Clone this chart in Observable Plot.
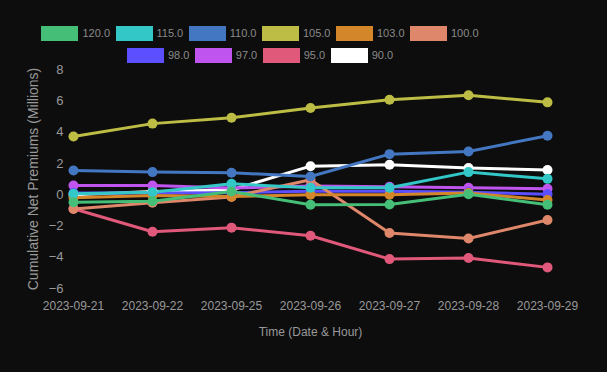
<!DOCTYPE html>
<html>
<head>
<meta charset="utf-8">
<script src="https://cdn.jsdelivr.net/npm/d3@7"></script>
<script src="https://cdn.jsdelivr.net/npm/@observablehq/plot@0.6"></script>
<style>
  html, body { margin: 0; padding: 0; background: #0d0d0d; width: 607px; height: 372px; overflow: hidden; }
  body { position: relative; font-family: "Liberation Sans", Arial, sans-serif; }
  #legend { position: absolute; left: 0; top: 0; width: 520px; }
  .row { display: flex; justify-content: center; height: 22px; align-items: center; }
  .item { display: flex; align-items: center; margin-right: 5.5px; }
  .item:last-child { margin-right: 0; }
  .box { width: 37px; height: 15px; margin-right: 4px; }
  .lab { font-size: 11px; color: #8a8a8a; }
  #chart { position: absolute; left: 0; top: 62px; }
</style>
</head>
<body>
<div id="legend"></div>
<div id="chart"></div>
<script>
const dates = ["2023-09-21","2023-09-22","2023-09-25","2023-09-26","2023-09-27","2023-09-28","2023-09-29"];
const strikes = ["120.0","115.0","110.0","105.0","103.0","100.0","98.0","97.0","95.0","90.0"];
const colors = ["#45bf78","#33c7c7","#4477c1","#bdbd45","#d4862b","#de876a","#5b4fff","#bf55ee","#e0587a","#ffffff"];
const s120 = [-0.49,-0.42,0.20,-0.65,-0.63,0.03,-0.64];
const s115 = [0.05,0.15,0.69,0.44,0.44,1.44,1.01];
const s110 = [1.54,1.44,1.40,1.16,2.59,2.76,3.77];
const s105 = [3.72,4.54,4.92,5.54,6.07,6.35,5.90];
const s103 = [-0.20,-0.05,-0.12,0.00,0.00,0.10,-0.35];
const s100 = [-0.92,-0.52,-0.15,0.95,-2.45,-2.80,-1.62];
const s98 = [0.10,0.10,0.12,0.22,0.22,0.15,0.03];
const s97 = [0.58,0.58,0.42,0.56,0.50,0.44,0.38];
const s95 = [-0.90,-2.37,-2.11,-2.63,-4.12,-4.05,-4.65];
const s90 = [0.00,0.20,0.30,1.82,1.91,1.70,1.58];
const yTicks = [-6,-4,-2,0,2,4,6,8];

const series = [s120,s115,s110,s105,s103,s100,s98,s97,s95,s90];

// legend
const legend = document.getElementById("legend");
const rows = [strikes.slice(0,6), strikes.slice(6)];
rows.forEach((r, ri) => {
  const row = document.createElement("div");
  row.className = "row";
  row.style.marginTop = ri === 0 ? "22px" : "0px";
  r.forEach(s => {
    const i = strikes.indexOf(s);
    const it = document.createElement("div");
    it.className = "item";
    const b = document.createElement("div");
    b.className = "box";
    b.style.background = colors[i];
    const t = document.createElement("span");
    t.className = "lab";
    t.textContent = s;
    it.appendChild(b); it.appendChild(t);
    row.appendChild(it);
  });
  legend.appendChild(row);
});

// data table; reverse order so first series is drawn on top
const data = [];
for (let k = series.length - 1; k >= 0; k--) {
  series[k].forEach((v, j) => data.push({strike: strikes[k], date: dates[j], value: v}));
}

const chart = Plot.plot({
  width: 607,
  height: 310,
  marginLeft: 73,
  marginRight: 60,
  marginTop: 7,
  marginBottom: 84,
  style: { background: "transparent", color: "#999", fontFamily: "'Liberation Sans', Arial, sans-serif", fontSize: "12px" },
  x: { type: "point", domain: dates, padding: 0 },
  y: { domain: [-6, 8] },
  color: { domain: strikes, range: colors },
  marks: [
    Plot.axisY({ ticks: yTicks, tickSize: 0, tickPadding: 10, label: null, fontSize: 13, fill: "#999" }),
    Plot.text(["Cumulative Net Premiums (Millions)"], { frameAnchor: "left", rotate: -90, dx: -40, dy: 0, fill: "#999", fontSize: 14, textAnchor: "middle" }),
    Plot.axisX({ tickSize: 0, tickPadding: 13, label: null, fontSize: 12, fill: "#999" }),
    Plot.text(["Time (Date & Hour)"], { frameAnchor: "bottom", dy: 47, fill: "#999", fontSize: 12 }),
    Plot.line(data, { x: "date", y: "value", z: "strike", stroke: "strike", strokeWidth: 3 }),
    Plot.dot(data, { x: "date", y: "value", fill: "strike", r: 5 })
  ]
});
document.getElementById("chart").appendChild(chart);
</script>
</body>
</html>
